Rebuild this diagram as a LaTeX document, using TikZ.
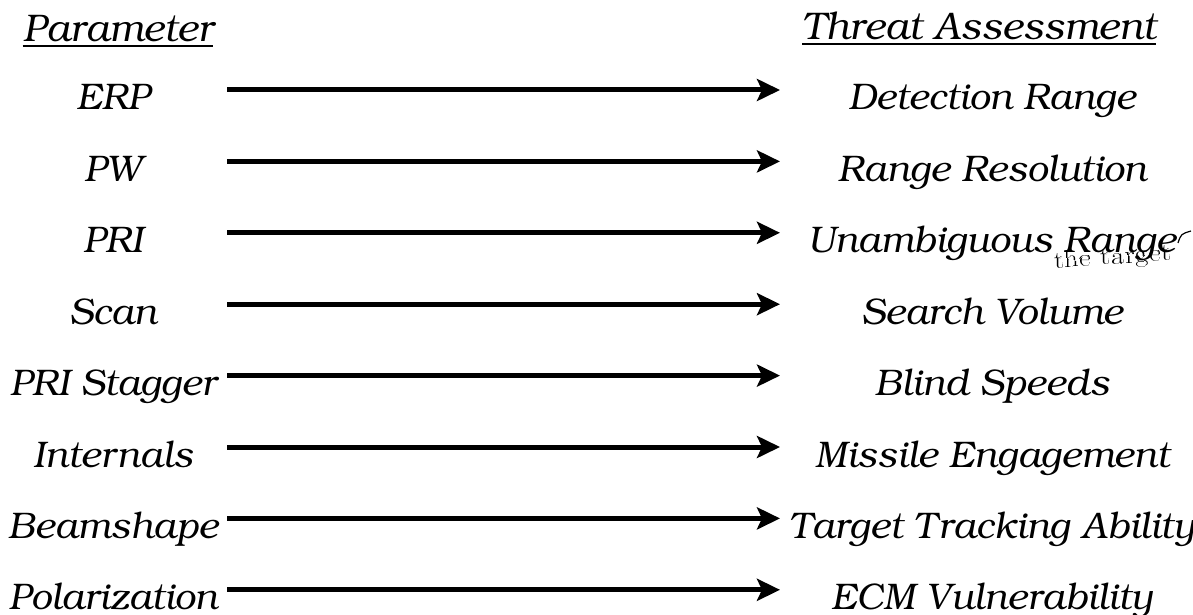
\documentclass[tikz,border=0pt]{standalone}
\usepackage[T1]{fontenc}
\usepackage{bookman}
\usetikzlibrary{arrows.meta}

\begin{document}
\begin{tikzpicture}[
        x=1pt, y=-1pt,
        every node/.style={inner sep=0pt, anchor=base, font=\fontsize{37}{44}\selectfont\itshape},
        heading/.style={font=\fontsize{38.5}{46}\selectfont\itshape},
        rule/.style={line width=2pt},
        link/.style={line width=5pt, -{Stealth[length=23pt, width=22pt, inset=5pt]}}
      ]

      \useasboundingbox (0,0) rectangle (1193,615);

      \node[heading] (paramhead) at (118,42) {Parameter};
      \node[heading] (threathead) at (979,40) {Threat Assessment};
      \draw[rule] ([yshift=-4pt]paramhead.base west) -- ([yshift=-4pt]paramhead.base east);
      \draw[rule] ([yshift=-4pt]threathead.base west) -- ([yshift=-4pt]threathead.base east);

      \foreach \p/\t [count=\i from 0] in {ERP/Detection Range, PW/Range Resolution,
          PRI/Unambiguous Range, Scan/Search Volume, PRI Stagger/Blind Speeds,
          Internals/Missile Engagement, Beamshape/Target Tracking Ability,
          Polarization/ECM Vulnerability} {
        \node (p\i) at (113, {110+71.4*\i}) {\p};
        \node (t\i) at (992, {110+71.4*\i}) {\t};
        \coordinate (s\i) at (227, {90+71.4*\i});
        \coordinate (e\i) at (780, {90+71.4*\i});
        \draw[link] (s\i) -- (e\i);
      }

      \node[font=\fontfamily{lmr}\fontsize{24}{24}\selectfont\itshape, rotate=4] (note) at (1113,264)
          {\scalebox{1.2}[1]{the target}};
      \draw[line width=1.2pt] (1178,243) .. controls (1181,234) .. (1191,231);

      \end{tikzpicture}
\end{document}
